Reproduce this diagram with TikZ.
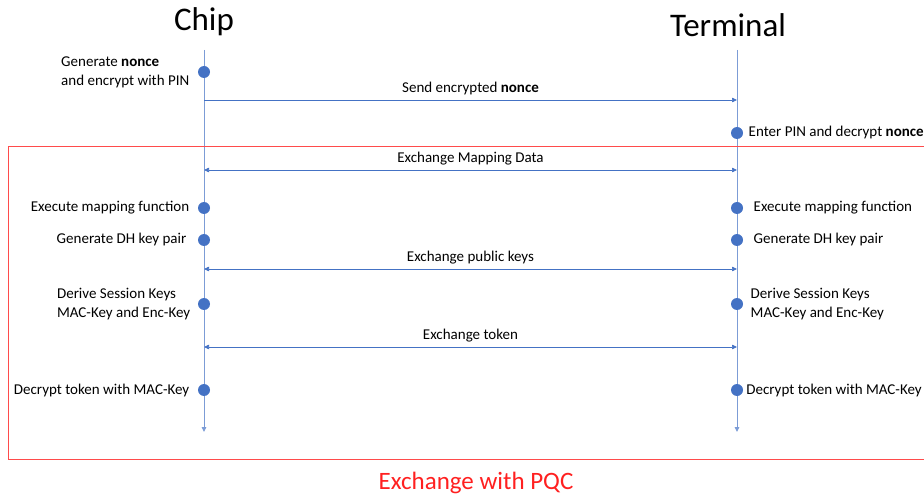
\documentclass[tikz,border=0pt]{standalone}
\usepackage{fontspec}
\setmainfont{Carlito}
\usetikzlibrary{arrows.meta,positioning}

\definecolor{seqblue}{HTML}{4472C4}
\definecolor{lifeblue}{HTML}{7C9CD6}
\definecolor{boxred}{HTML}{FF4B4B}
\definecolor{pqcred}{HTML}{FF2020}

\begin{document}
\begin{tikzpicture}[x=1pt,y=-1pt,>={Triangle[length=5pt,width=4.5pt]},
    every node/.style={font=\fontsize{15}{19}\selectfont},
    dot/.style={circle,fill=seqblue,minimum size=12pt,inner sep=0pt},
    msg/.style={draw=seqblue,line width=0.7pt},
    lifeline/.style={draw=lifeblue,line width=0.9pt,->},
    title/.style={font=\fontsize{33}{36}\selectfont}]
    \useasboundingbox (0,0) rectangle (924,497);

    % lifelines
    \node[title] (chip) at (204,22) {Chip};
    \node[title] (term) at (728,25) {Terminal};
    \coordinate (chipTop) at (204,50);
    \coordinate (chipEnd) at (204,432);
    \coordinate (termTop) at (737,50);
    \coordinate (termEnd) at (737,432);
    \draw[lifeline] (chipTop) -- (chipEnd);
    \draw[lifeline] (termTop) -- (termEnd);

    % PQC part
    \draw[boxred,line width=0.8pt] (924,146) -- (8,146) -- (8,459) -- (924,459);
    \node[text=pqcred,font=\fontsize{25}{28}\selectfont] (pqc) at (476,483) {Exchange with PQC};

    % messages
    \coordinate (m1c) at (204,100);
    \coordinate (m1t) at (737,100);
    \draw[msg,->] (m1c) -- node[above=1pt] {Send encrypted \textbf{nonce}} (m1t);
    \coordinate (m2c) at (204,170);
    \coordinate (m2t) at (737,170);
    \draw[msg,<->] (m2c) -- node[above=1pt] {Exchange Mapping Data} (m2t);
    \coordinate (m3c) at (204,269);
    \coordinate (m3t) at (737,269);
    \draw[msg,<->] (m3c) -- node[above=1pt] {Exchange public keys} (m3t);
    \coordinate (m4c) at (204,347);
    \coordinate (m4t) at (737,347);
    \draw[msg,<->] (m4c) -- node[above=1pt] {Exchange token} (m4t);

    % chip steps
    \node[dot] (c1) at (204,72) {};
    \node[dot] (c2) at (204,208) {};
    \node[dot] (c3) at (204,240) {};
    \node[dot] (c4) at (204,304) {};
    \node[dot] (c5) at (204,390) {};
    \node[left=5pt of c1,align=left] (c1txt) {Generate \textbf{nonce}\\and encrypt with PIN};
    \node[left=5pt of c2] (c2txt) {Execute mapping function};
    \node[left=8pt of c3] (c3txt) {Generate DH key pair};
    \node[left=4pt of c4,align=left] (c4txt) {Derive Session Keys\\MAC-Key and Enc-Key};
    \node[left=5pt of c5] (c5txt) {Decrypt token with MAC-Key};

    % terminal steps
    \node[dot] (t1) at (737,133) {};
    \node[dot] (t2) at (737,208) {};
    \node[dot] (t3) at (737,240) {};
    \node[dot] (t4) at (737,304) {};
    \node[dot] (t5) at (737,390) {};
    \node[right=2pt of t1] (t1txt) {Enter PIN and decrypt \textbf{nonce}};
    \node[right=7pt of t2] (t2txt) {Execute mapping function};
    \node[right=7pt of t3] (t3txt) {Generate DH key pair};
    \node[right=4pt of t4,align=left] (t4txt) {Derive Session Keys\\MAC-Key and Enc-Key};
    \node[right=1pt of t5,inner xsep=2pt] (t5txt) {Decrypt token with MAC-Key};
\end{tikzpicture}
\end{document}
